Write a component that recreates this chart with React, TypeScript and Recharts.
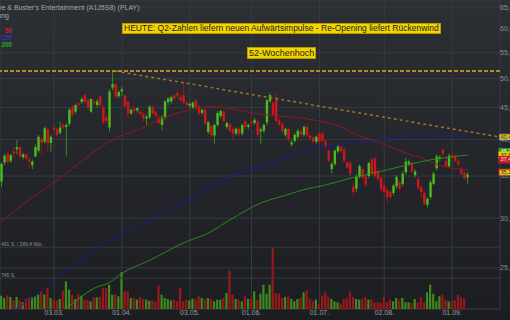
import React from "react";
import { ComposedChart, Bar, Line, XAxis, YAxis, CartesianGrid, ReferenceLine, Cell } from "recharts";

// Tageskerzen: [Eröffnung, Hoch, Tief, Schluss]
const ohlc: [number, number, number, number][] = [
  [34.3, 36.8, 33.6, 36.6], [36.8, 38.0, 36.4, 37.7], [38.0, 38.2, 36.6, 36.8], [37.0, 37.9, 36.7, 37.8],
  [38.3, 38.9, 37.4, 38.0], [38.6, 40.0, 37.9, 38.9], [38.9, 39.1, 37.5, 37.6], [37.5, 38.1, 37.2, 37.9],
  [37.9, 38.0, 37.0, 37.3], [37.2, 37.5, 35.9, 36.9], [36.4, 37.2, 35.9, 36.9], [37.6, 39.3, 37.5, 38.9],
  [38.4, 40.7, 38.1, 40.4], [40.1, 40.4, 37.9, 39.5], [39.7, 42.0, 39.4, 41.7], [41.6, 41.9, 38.3, 39.5],
  [39.5, 40.7, 38.3, 40.4], [41.8, 42.0, 41.2, 41.5], [41.6, 41.8, 40.4, 40.7], [41.0, 42.7, 40.7, 41.8],
  [42.2, 42.4, 41.5, 41.8], [41.9, 42.5, 37.6, 42.2], [42.4, 44.9, 42.0, 44.6], [45.1, 45.3, 43.4, 43.8],
  [44.3, 45.6, 44.0, 45.4], [45.7, 45.9, 45.1, 45.4], [45.9, 46.7, 45.6, 46.4], [47.1, 47.4, 45.7, 45.9],
  [46.2, 46.5, 44.6, 45.0], [44.3, 46.5, 44.1, 46.4], [45.9, 46.2, 45.4, 45.7], [45.4, 46.4, 45.0, 46.0],
  [46.9, 47.2, 45.0, 45.4], [45.0, 45.4, 42.2, 42.6], [43.4, 43.8, 42.4, 42.8], [41.8, 48.1, 41.2, 47.7],
  [48.4, 51.4, 47.9, 49.0], [49.0, 49.3, 46.6, 46.8], [46.9, 47.9, 46.6, 47.6], [47.7, 48.6, 46.9, 48.1],
  [47.0, 47.2, 44.9, 45.2], [45.9, 46.2, 43.2, 44.0], [44.0, 44.8, 43.8, 44.6], [44.8, 45.2, 44.0, 44.4],
  [44.5, 45.0, 44.1, 44.9], [44.3, 44.6, 43.6, 43.9], [43.9, 44.2, 42.7, 43.2], [43.2, 43.8, 42.2, 43.5],
  [43.4, 45.4, 43.1, 45.1], [45.0, 45.4, 43.8, 44.0], [44.2, 44.6, 43.2, 43.6], [43.3, 43.8, 42.2, 42.5],
  [42.2, 43.8, 41.4, 43.4], [43.4, 46.2, 43.0, 46.0], [45.9, 46.7, 45.4, 46.5], [46.0, 47.0, 45.6, 46.7],
  [47.0, 47.2, 46.2, 46.5], [47.5, 47.9, 46.5, 46.9], [46.7, 47.0, 46.0, 46.2], [47.1, 49.4, 45.6, 45.8],
  [45.8, 46.1, 45.2, 45.4], [45.3, 45.8, 44.9, 45.6], [45.0, 46.0, 44.8, 45.8], [46.2, 46.5, 44.8, 45.0],
  [45.2, 45.4, 43.6, 44.0], [44.1, 44.8, 43.8, 44.6], [44.6, 44.9, 42.2, 42.4], [41.1, 42.8, 40.8, 42.6],
  [42.0, 42.3, 40.3, 40.6], [40.6, 42.4, 39.4, 42.2], [42.2, 44.4, 41.9, 44.1], [43.6, 44.6, 43.3, 44.4],
  [44.3, 44.6, 42.6, 42.8], [41.9, 42.7, 41.6, 42.5], [42.3, 42.6, 41.0, 41.3], [41.6, 41.9, 40.0, 40.9],
  [40.9, 41.8, 40.6, 41.6], [41.6, 41.8, 40.5, 40.8], [40.9, 42.4, 40.6, 42.2], [42.7, 43.0, 41.6, 41.9],
  [41.9, 42.4, 41.6, 42.2], [42.7, 43.0, 42.0, 42.4], [42.5, 43.3, 42.2, 43.0], [42.7, 43.0, 40.4, 40.7],
  [41.2, 41.8, 39.4, 41.5], [41.3, 42.4, 41.0, 42.2], [42.6, 46.4, 42.2, 46.2], [46.0, 47.4, 45.7, 47.1],
  [45.8, 46.1, 43.5, 43.8], [46.6, 47.7, 42.6, 42.8], [42.9, 43.2, 42.0, 42.2], [42.4, 42.6, 41.0, 41.2],
  [40.7, 41.8, 40.4, 41.6], [41.6, 41.8, 39.6, 40.0], [39.3, 39.9, 39.0, 39.6], [39.8, 41.0, 39.5, 40.7],
  [40.4, 41.6, 40.1, 41.3], [41.2, 41.5, 40.4, 40.7], [40.7, 42.1, 40.4, 41.9], [41.9, 42.2, 40.3, 40.6],
  [40.6, 40.9, 39.8, 40.2], [40.3, 40.6, 39.4, 39.7], [39.7, 40.6, 39.4, 40.4], [40.9, 41.2, 39.4, 39.7],
  [40.9, 41.2, 39.6, 39.8], [39.8, 40.1, 38.6, 38.9], [38.4, 38.6, 36.7, 37.0], [35.9, 36.8, 35.3, 36.6],
  [36.6, 38.6, 36.3, 38.4], [38.3, 39.3, 38.0, 39.0], [38.9, 39.2, 38.1, 38.3], [38.6, 38.9, 36.8, 37.0],
  [36.8, 37.0, 35.9, 36.1], [36.7, 36.9, 35.0, 35.3], [33.7, 34.2, 32.5, 33.0], [33.4, 35.2, 33.0, 34.9],
  [34.9, 36.5, 34.7, 36.3], [35.9, 36.1, 34.6, 34.8], [34.9, 35.2, 33.6, 33.9], [35.0, 36.9, 34.7, 36.7],
  [37.2, 37.5, 35.0, 35.3], [37.3, 37.6, 34.6, 35.0], [35.6, 35.9, 34.4, 34.6], [34.7, 35.0, 33.0, 33.3],
  [33.8, 34.0, 32.7, 33.0], [33.2, 33.5, 31.7, 32.4], [33.0, 33.3, 32.2, 32.4], [32.9, 34.0, 32.6, 33.8],
  [33.7, 35.1, 33.4, 34.9], [34.2, 34.5, 33.1, 33.4], [34.0, 35.6, 33.7, 35.3], [35.5, 37.4, 35.2, 36.9],
  [36.6, 37.2, 36.3, 36.9], [36.7, 37.0, 35.4, 35.6], [35.1, 35.9, 34.8, 35.6], [34.6, 34.9, 33.2, 33.5],
  [33.6, 33.9, 32.3, 33.0], [32.9, 33.2, 31.4, 31.6], [31.5, 32.4, 31.2, 32.2], [32.4, 34.5, 32.1, 34.2],
  [34.0, 35.6, 33.8, 35.3], [36.0, 37.9, 35.7, 37.6], [37.3, 37.8, 36.9, 37.5], [38.5, 38.8, 37.7, 38.0],
  [37.0, 37.5, 36.1, 36.3], [36.3, 38.0, 36.0, 37.7], [37.8, 38.2, 37.2, 37.5], [37.6, 38.0, 36.9, 37.0],
  [37.0, 37.2, 36.3, 36.5], [36.0, 36.2, 35.1, 35.3], [35.4, 35.6, 34.5, 34.7], [34.8, 35.5, 34.0, 35.2],
];

// Umsatz in Tsd. Stück
const volume = [
  216, 178, 216, 194, 135, 194, 140, 108, 162, 178, 194, 205, 232, 286, 232, 340, 178, 151, 140, 162,
  296, 447, 313, 232, 162, 248, 216, 151, 151, 124, 194, 189, 194, 340, 340, 393, 232, 232, 205, 593,
  286, 286, 178, 178, 151, 194, 162, 151, 135, 140, 124, 377, 232, 178, 162, 140, 151, 124, 340, 124,
  151, 140, 167, 151, 205, 178, 162, 178, 162, 124, 151, 151, 178, 259, 625, 232, 162, 151, 124, 205,
  162, 162, 286, 151, 248, 393, 248, 393, 997, 259, 248, 178, 194, 205, 162, 124, 162, 178, 270, 302,
  162, 124, 151, 86, 216, 270, 194, 162, 124, 108, 86, 162, 178, 286, 194, 162, 151, 162, 194, 151,
  151, 108, 108, 97, 194, 108, 151, 124, 178, 140, 178, 108, 108, 97, 162, 97, 194, 108, 270, 393,
  248, 124, 205, 232, 151, 124, 124, 140, 232, 194, 162,
];

// gleitende Durchschnitte: [Handelstag, Wert]
const sma50: [number, number][] = [
  [0, 29.6], [9, 32.1], [16, 33.9], [21, 35.4], [26, 36.9], [31, 38.6], [37, 40.2], [45, 41.6],
  [51, 43.0], [61, 44.6], [68, 45.1], [73, 44.9], [81, 44.1], [90, 43.6], [97, 43.3], [103, 42.8],
  [110, 41.9], [115, 40.7], [120, 39.9], [125, 39.1], [130, 38.2], [136, 37.4], [142, 36.4], [151, 35.8],
];
const sma150: [number, number][] = [
  [0, 20.8], [10, 22.4], [21, 24.8], [32, 27.0], [39, 28.4], [48, 29.8], [62, 32.4], [73, 34.8],
  [84, 36.2], [94, 37.8], [103, 38.9], [114, 39.5], [125, 40.1], [136, 40.4], [151, 40.5],
];
const sma200: [number, number][] = [
  [15, 20.8], [21, 21.6], [30, 23.2], [35, 23.7], [39, 24.5], [48, 25.7], [59, 27.4], [67, 28.4],
  [74, 29.8], [84, 31.7], [92, 32.6], [99, 33.4], [103, 33.7], [114, 34.8], [125, 35.8], [136, 36.9],
  [151, 37.8],
];

const monthTicks = [17, 39, 61, 81, 103, 124, 146];
const monthLabels = ["03.03.", "01.04.", "03.05.", "01.06.", "01.07.", "02.08.", "01.09."];
const priceTicks = [25, 30, 35, 40, 45, 50, 55, 60, 65];
const high52 = 51.4;
const trendFrom: [number, number] = [37, 51.4];
const trendTo: [number, number] = [161, 40.4];
const volLines = [500, 1000];
const volLabels = ["745 S.", "491 S. / 280,4 Mio."];
const tags = [
  { v: 40.4, bg: "#e6cc00", border: "#2c3aa8", color: "#222", text: "40,40" },
  { v: 38.3, bg: "#2f9a25", border: "#2f9a25", color: "#e8ffe0", text: "38,27" },
  { v: 37.8, bg: "#e6cc00", border: "#e6cc00", color: "#222", text: "37,80" },
  { v: 37.2, bg: "#c8202a", border: "#c8202a", color: "#ffd8d8", text: "37,40" },
  { v: 35.5, bg: "#e6cc00", border: "#c8202a", color: "#222", text: "35,20" },
];
const emptyDays = 10;

const GREEN = "#49bd1c";
const RED = "#d0161c";

const rows: any[] = Array.from({ length: ohlc.length + emptyDays }, (_, i) => {
  const row: any = { i };
  const c = ohlc[i];
  if (c) {
    row.o = c[0]; row.h = c[1]; row.l = c[2]; row.c = c[3];
    row.range = [Math.log(c[2]), Math.log(c[1])];
    row.up = c[3] >= c[0];
  }
  if (volume[i] != null) row.vol = volume[i];
  return row;
});
sma50.forEach(([i, v]) => (rows[i].sma50 = Math.log(v)));
sma150.forEach(([i, v]) => (rows[i].sma150 = Math.log(v)));
sma200.forEach(([i, v]) => (rows[i].sma200 = Math.log(v)));

const Candle = (props: any) => {
  const { x, y, width, height, payload } = props;
  if (!payload || payload.o == null) return null;
  const lh = Math.log(payload.h), ll = Math.log(payload.l);
  const top = Math.min(y, y + height), h = Math.abs(height);
  const k = lh - ll > 0 ? h / (lh - ll) : 0;
  const yv = (p: number) => top + (lh - Math.log(p)) * k;
  const cx = x + width / 2;
  const bt = yv(Math.max(payload.o, payload.c));
  const bb = yv(Math.min(payload.o, payload.c));
  const up = payload.up;
  return (
    <g>
      <line x1={cx} x2={cx} y1={top} y2={top + h} stroke={up ? "#3a8a1c" : "#a01418"} strokeWidth={1} />
      <rect x={cx - 1.2} y={bt} width={2.4} height={Math.max(1, bb - bt)} fill={up ? GREEN : RED} />
    </g>
  );
};

const Tag = (props: any) => {
  const { viewBox, t } = props;
  const y = viewBox.y;
  return (
    <g>
      <rect x={499} y={y - 3} width={16} height={6.5} fill={t.bg} stroke={t.border} strokeWidth={1} />
      <text x={500.5} y={y + 2} fontSize={5.5} fill={t.color}>{t.text}</text>
    </g>
  );
};

const fmt = (v: number) => Math.exp(v).toFixed(2).replace(".", ",");

export default function App() {
  return (
    <div
      style={{
        position: "absolute", left: 0, top: 0, width: 510, height: 320, overflow: "hidden",
        background: "linear-gradient(#2c2f34, #1b1d21)", fontFamily: "'Liberation Sans', Arial, sans-serif",
      }}
    >
      <ComposedChart width={510} height={320} data={rows} margin={{ top: 0, right: 0, bottom: 0, left: 0 }}>
        <CartesianGrid xAxisId="d" yAxisId="p" stroke="#373a40" strokeWidth={1} />
        <XAxis
          xAxisId="d" dataKey="i" type="category" ticks={monthTicks} interval={0} height={11}
          tickSize={0} tickMargin={1} axisLine={false}
          tickFormatter={(v: number) => monthLabels[monthTicks.indexOf(v)] ?? ""}
          tick={{ fill: "#9a9da3", fontSize: 7 }}
        />
        <XAxis xAxisId="v" dataKey="i" type="category" hide />
        <YAxis
          yAxisId="p" orientation="right" type="number" width={10} allowDataOverflow
          domain={[Math.log(21.5), Math.log(66.7)]} ticks={priceTicks.map((p) => Math.log(p))}
          tickFormatter={fmt} tickSize={0} tickMargin={0} axisLine={false}
          tick={{ fill: "#8d9096", fontSize: 7, textAnchor: "start" }}
        />
        <YAxis yAxisId="v" type="number" hide domain={[0, 5000]} />

        {volLines.map((v, k) => (
          <ReferenceLine
            key={v} xAxisId="v" yAxisId="v" y={v} stroke="#373a40"
            label={{ value: volLabels[k], position: "insideBottomLeft", offset: 1, fill: "#8d9096", fontSize: 5 }}
          />
        ))}

        <Bar xAxisId="v" yAxisId="v" dataKey="vol" barSize={2.2} isAnimationActive={false} activeBar={false}>
          {rows.map((r) => (
            <Cell key={r.i} fill={r.up ? "#3f8a1c" : "#9a181c"} />
          ))}
        </Bar>

        <ReferenceLine xAxisId="d" yAxisId="p" y={Math.log(high52)} stroke="#b8862c" strokeWidth={2} strokeDasharray="4 2" />
        <ReferenceLine
          xAxisId="d" yAxisId="p" stroke="#9a7332" strokeWidth={1.5} strokeDasharray="3 3"
          segment={[{ x: trendFrom[0], y: Math.log(trendFrom[1]) }, { x: trendTo[0], y: Math.log(trendTo[1]) }]}
        />

        <Line xAxisId="d" yAxisId="p" dataKey="sma50" type="monotone" stroke="#8e1a22" strokeWidth={1} dot={false} activeDot={false} connectNulls isAnimationActive={false} />
        <Line xAxisId="d" yAxisId="p" dataKey="sma150" type="monotone" stroke="#1c1c8e" strokeWidth={1} dot={false} activeDot={false} connectNulls isAnimationActive={false} />
        <Line xAxisId="d" yAxisId="p" dataKey="sma200" type="monotone" stroke="#2a8a1e" strokeWidth={1} dot={false} activeDot={false} connectNulls isAnimationActive={false} />

        <Bar xAxisId="d" yAxisId="p" dataKey="range" shape={Candle} barSize={3} isAnimationActive={false} activeBar={false} />

        {tags.map((t) => (
          <ReferenceLine
            key={t.text} xAxisId="d" yAxisId="p" y={Math.log(t.v)} stroke="none" ifOverflow="visible"
            label={(p: any) => <Tag {...p} t={t} />}
          />
        ))}
      </ComposedChart>

      <div style={{ position: "absolute", left: -11, top: 4, fontSize: 7, color: "#a2a5aa", whiteSpace: "nowrap" }}>
        Dave &amp; Buster's Entertainment (A1J5S8) (PLAY)
      </div>
      <div style={{ position: "absolute", right: 501, top: 12, fontSize: 7, color: "#a2a5aa", whiteSpace: "nowrap" }}>
        Tageskerzen, Darstellung
      </div>
      <div style={{ position: "absolute", right: 498, top: 27, fontSize: 6.5, fontWeight: "bold", color: "#c8202a", lineHeight: "7px", textAlign: "right" }}>
        50
      </div>
      <div style={{ position: "absolute", right: 498, top: 34, fontSize: 6.5, fontWeight: "bold", color: "#3030c8", lineHeight: "7px", textAlign: "right" }}>
        150
      </div>
      <div style={{ position: "absolute", right: 498, top: 41, fontSize: 6.5, fontWeight: "bold", color: "#2aa81e", lineHeight: "7px", textAlign: "right" }}>
        200
      </div>

      <div
        style={{
          position: "absolute", left: 122, top: 23, height: 9, lineHeight: "9px", padding: "0 1px",
          background: "#f2d400", border: "1px solid #b99b00", color: "#1e1e1e", fontSize: 8.5, whiteSpace: "nowrap",
        }}
      >
        HEUTE: Q2-Zahlen liefern neuen Aufwärtsimpulse - Re-Opening liefert Rückenwind
      </div>
      <div
        style={{
          position: "absolute", left: 247, top: 47, height: 10, lineHeight: "10px", padding: "0 1px",
          background: "#f2d400", border: "1px solid #b99b00", color: "#1e1e1e", fontSize: 9, whiteSpace: "nowrap",
        }}
      >
        52-Wochenhoch
      </div>
    </div>
  );
}
